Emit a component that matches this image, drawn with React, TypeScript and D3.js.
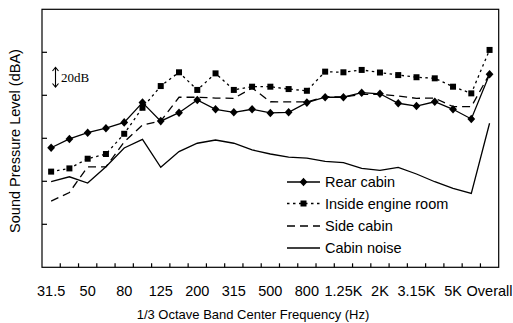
import React from "react";
import * as d3 from "d3";

const categories = ["31.5","40","50","63","80","100","125","160","200","250","315","400","500","630","800","1K","1.25K","1.6K","2K","2.5K","3.15K","4K","5K","6.3K","Overall"];
const tickLabels = ["31.5","50","80","125","200","315","500","800","1.25K","2K","3.15K","5K","Overall"];

const rearCabin = [55.6,59.7,62.6,64.7,67.4,76.6,68.0,71.9,77.8,73.5,72.1,73.5,71.8,72.1,76.6,79.1,79.1,81.2,80.7,76.3,75.0,77.0,73.5,69.0,89.8];
const engineRoom = [44.5,46.0,50.5,52.7,62.1,74.2,84.3,90.7,82.5,90.2,82.5,84.0,84.0,82.9,82.1,91.0,90.7,91.8,90.6,89.4,88.4,87.9,84.0,80.9,101.1];
const sideCabin = [30.8,34.8,46.7,46.7,58.3,66.2,68.0,79.1,79.1,78.7,78.6,83.4,77.0,76.9,76.9,79.4,79.2,80.4,80.4,79.7,78.6,78.7,74.7,74.7,89.9];
const cabinNoise = [39.8,42.1,39.2,46.8,55.5,59.5,46.5,53.8,57.7,59.2,57.7,54.6,52.7,51.2,50.8,49.3,48.7,46.0,45.1,46.5,43.4,39.8,36.7,34.4,67.0];
const yTicks = [0,20,40,60,80,100,120];

const seriesNames = ["Rear cabin","Inside engine room","Side cabin","Cabin noise"];

export default function App() {
  const W = 513, H = 323;
  const left = 42, right = 498.7, top = 9.3, bottom = 267.3;
  const x = d3.scaleBand<string>().domain(categories).range([left, right]).paddingInner(0).paddingOuter(0);
  const y = d3.scaleLinear().domain([0, 120]).range([bottom, top]);
  const cx = (c: string) => (x(c) as number) + x.bandwidth() / 2;
  const line = d3.line<number>().x((_, i) => cx(categories[i])).y((v) => y(v));

  const diamond = (px: number, py: number, k: string) => (
    <path key={k} d={`M${px},${py - 4.3} L${px + 3.9},${py} L${px},${py + 4.3} L${px - 3.9},${py} Z`} fill="#000" />
  );
  const square = (px: number, py: number, k: string) => (
    <rect key={k} x={px - 3} y={py - 3} width={6} height={6} fill="#000" />
  );

  const font = "'Liberation Sans', Arial, sans-serif";
  const legendY = [182, 203.5, 226, 248];
  const lx0 = 287, lx1 = 320, lxm = 303.5, ltx = 325;

  return (
    <svg width={W} height={H} style={{ position: "absolute", left: 0, top: 0, background: "#fff" }} fontFamily={font}>
      <rect x={0} y={0} width={W} height={H} fill="#fff" />
      {/* series lines */}
      <path d={line(cabinNoise) || ""} fill="none" stroke="#000" strokeWidth={1.3} />
      <path d={line(sideCabin) || ""} fill="none" stroke="#000" strokeWidth={1.3} strokeDasharray="8,5" />
      <path d={line(engineRoom) || ""} fill="none" stroke="#000" strokeWidth={1.3} strokeDasharray="2.5,3.5" />
      <path d={line(rearCabin) || ""} fill="none" stroke="#000" strokeWidth={1.3} />
      {engineRoom.map((v, i) => square(cx(categories[i]), y(v), "s" + i))}
      {rearCabin.map((v, i) => diamond(cx(categories[i]), y(v), "d" + i))}

      {/* frame */}
      <rect x={left} y={top} width={right - left} height={bottom - top} fill="none" stroke="#000" strokeWidth={1.2} />
      {/* y ticks */}
      {yTicks.slice(1, -1).map((t) => (
        <line key={"yt" + t} x1={left} x2={left + 5} y1={y(t)} y2={y(t)} stroke="#000" strokeWidth={1.2} />
      ))}
      {/* x ticks at band boundaries */}
      {categories.slice(1).map((c) => (
        <line key={"xt" + c} x1={x(c) as number} x2={x(c) as number} y1={bottom} y2={bottom - 4} stroke="#000" strokeWidth={1.2} />
      ))}
      {tickLabels.map((c) => (
        <text key={"xl" + c} x={cx(c)} y={296} textAnchor="middle" fontSize={14.5} fill="#000">{c}</text>
      ))}
      <text x={253} y={319} textAnchor="middle" fontSize={13} fill="#000">1/3 Octave Band Center Frequency (Hz)</text>
      <text transform="translate(20,141) rotate(-90)" textAnchor="middle" fontSize={14.5} fill="#000">Sound Pressure Level (dBA)</text>

      {/* 20dB annotation */}
      <g stroke="#000" strokeWidth={1.1} fill="none">
        <line x1={55.5} x2={55.5} y1={67.5} y2={87} />
        <path d="M52.5,71 L55.5,67.3 L58.5,71" />
        <path d="M52.5,83.5 L55.5,87.2 L58.5,83.5" />
      </g>
      <text x={61} y={81.5} fontSize={13} fontFamily="'Liberation Serif', 'Times New Roman', serif" fill="#000">20dB</text>

      {/* legend */}
      <g>
        <line x1={lx0} x2={lx1} y1={legendY[0]} y2={legendY[0]} stroke="#000" strokeWidth={1.3} />
        {diamond(lxm, legendY[0], "ld")}
        <line x1={lx0} x2={lx1} y1={legendY[1]} y2={legendY[1]} stroke="#000" strokeWidth={1.3} strokeDasharray="2.5,3.5" />
        {square(lxm, legendY[1], "ls")}
        <line x1={lx0} x2={lx1} y1={legendY[2]} y2={legendY[2]} stroke="#000" strokeWidth={1.3} strokeDasharray="8,5" />
        <line x1={lx0} x2={lx1} y1={legendY[3]} y2={legendY[3]} stroke="#000" strokeWidth={1.3} />
        {seriesNames.map((n, i) => (
          <text key={n} x={ltx} y={legendY[i] + 5} fontSize={14.5} fill="#000">{n}</text>
        ))}
      </g>
    </svg>
  );
}
